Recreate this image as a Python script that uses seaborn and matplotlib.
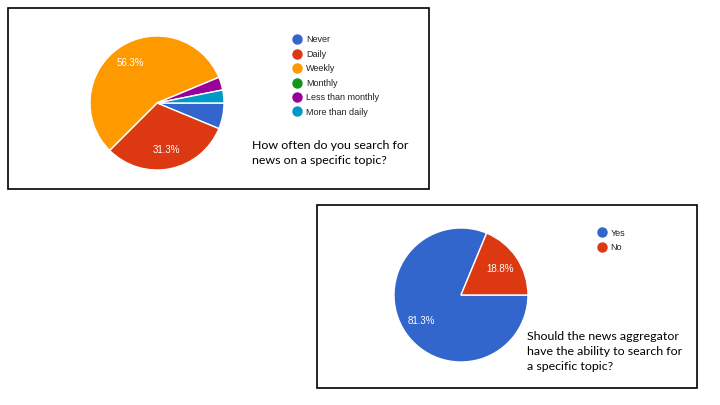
import math
import matplotlib
matplotlib.use("Agg")
import matplotlib.pyplot as plt
import seaborn as sns
from matplotlib.lines import Line2D
from matplotlib.patches import Rectangle

# dati (32 risposte)
freq_labels = ["Never", "Daily", "Weekly", "Monthly", "Less than monthly", "More than daily"]
freq_counts = [2, 10, 18, 0, 1, 1]
freq_question = "How often do you search for\nnews on a specific topic?"

search_labels = ["Yes", "No"]
search_counts = [26, 6]
search_question = "Should the news aggregator\nhave the ability to search for\na specific topic?"

google = ["#3366cc", "#dc3912", "#ff9900", "#109618", "#990099", "#0099c6"]

sns.set_style("white")
plt.rcParams["font.family"] = ["Liberation Sans", "DejaVu Sans"]

W, H = 720, 405
fig = plt.figure(figsize=(7.2, 4.05), dpi=100)


def px(x, y, w, h):
    # rettangolo in pixel (origine in alto a sinistra) -> frazioni della figura
    return [x / W, 1 - (y + h) / H, w / W, h / H]


def box(x0, y0, x1, y1):
    fig.add_artist(Rectangle((x0 / W, 1 - y1 / H), (x1 - x0) / W, (y1 - y0) / H,
                             transform=fig.transFigure, fill=False,
                             edgecolor="black", linewidth=1.2))


def pct_label(p):
    # arrotondamento "half up" come Google Forms (56.25 -> 56.3)
    return f"{math.floor(p * 10 + 0.5) / 10:.1f}%" if p >= 10 else ""


def draw_panel(counts, labels, colors, cx, cy, r, leg_x, leg_y, question, qx, qy, lsp):
    ax = fig.add_axes(px(cx - r, cy - r, 2 * r, 2 * r))
    wedges, _, autotexts = ax.pie(counts, colors=colors, startangle=0, counterclock=False,
                                  autopct=pct_label, pctdistance=0.71,
                                  wedgeprops=dict(edgecolor="white", linewidth=1))
    for t in autotexts:
        t.set_color("white")
        t.set_fontsize(7)
    ax.set_xlim(-1, 1)
    ax.set_ylim(-1, 1)
    ax.set_aspect("equal")
    ax.axis("off")

    handles = [Line2D([], [], linestyle="none", marker="o", markersize=6.5,
                      markerfacecolor=c, markeredgecolor=c) for c in colors]
    fig.legend(handles, labels, loc="upper left", bbox_to_anchor=(leg_x / W, 1 - leg_y / H),
               frameon=False, fontsize=6.5, borderpad=0, borderaxespad=0,
               handlelength=1, handletextpad=0.5, labelspacing=0.6, labelcolor="#222222")

    fig.text(qx / W, 1 - qy / H, question, fontsize=8.9, family=["Lato", "DejaVu Sans"],
             va="top", ha="left", linespacing=lsp, color="black")


box(8, 8, 429, 189)
draw_panel(freq_counts, freq_labels, google, 157, 103, 67, 292.5, 35.5,
           freq_question, 252, 140, 1.5)

box(317, 205, 697, 388)
draw_panel(search_counts, search_labels, google[:2], 461, 295, 67, 597, 228.5,
           search_question, 527, 331, 1.45)

fig.savefig("out.png", dpi=100)
